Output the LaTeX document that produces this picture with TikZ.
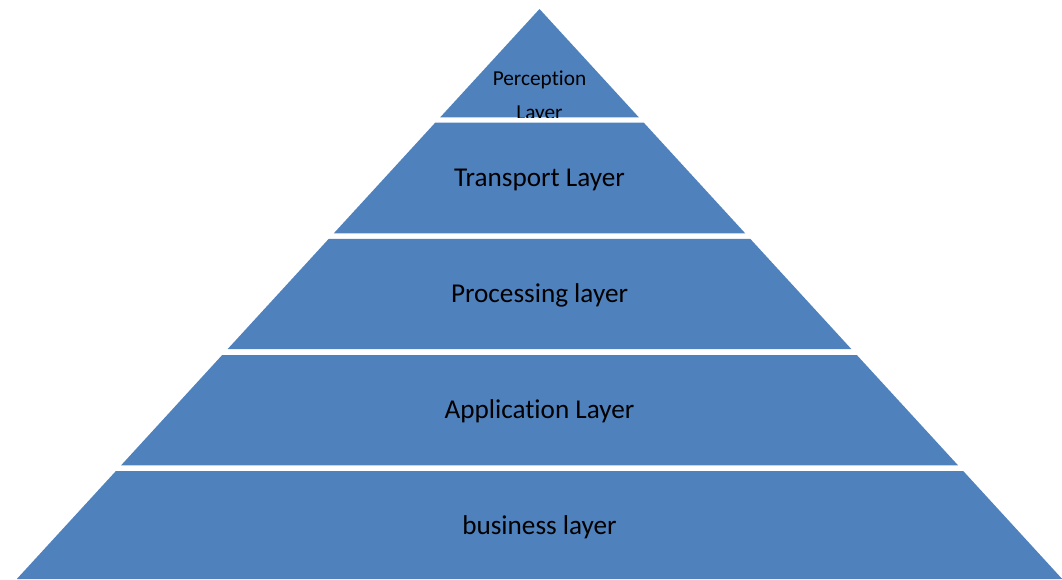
\documentclass[tikz,border=0pt]{standalone}
\usepackage{fontspec}
\setmainfont{Carlito}[Ligatures={NoCommon}]
\definecolor{layerblue}{HTML}{4F81BD}
\tikzset{
  slice/.style={fill=layerblue, draw=none},
  lbl/.style={anchor=base, inner sep=0pt, text=black, font=\fontsize{27.2}{30}\selectfont},
  smalllbl/.style={anchor=base, inner sep=0pt, text=black, font=\fontsize{21.3}{24}\selectfont}
}
\begin{document}
\begin{tikzpicture}[x=1pt,y=1pt]
\useasboundingbox (0,0) rectangle (1062,579);
\clip (0,0) rectangle (1062,579);
% slice 1 (apex)
\path[slice] (539.5,570) -- (638.8,461.7) -- (440.2,461.7) -- cycle;
\begin{scope}
  \clip (539.5,570) -- (638.8,461.7) -- (440.2,461.7) -- cycle;
  \node[smalllbl] (perc1) at (539.5,493.3) {Perception};
  \node[smalllbl] (perc2) at (539.5,459.7) {Layer};
\end{scope}
% slice 2
\path[slice] (435.2,456.3) -- (643.8,456.3) -- (745.2,345.7) -- (333.8,345.7) -- cycle;
\node[lbl] (transport) at (539.5,392.3) {Transport Layer};
% slice 3
\path[slice] (328.6,340) -- (750.4,340) -- (851.3,230) -- (227.7,230) -- cycle;
\node[lbl] (processing) at (539.5,276.5) {Processing layer};
% slice 4
\path[slice] (222.2,224) -- (856.8,224) -- (958.0,113.7) -- (121.1,113.7) -- cycle;
\node[lbl] (application) at (539.5,160.7) {Application Layer};
% slice 5
\path[slice] (115.9,108) -- (963.2,108) -- (1062.2,0) -- (16.8,0) -- cycle;
\node[lbl] (business) at (539.5,44.7) {business layer};
\end{tikzpicture}
\end{document}
